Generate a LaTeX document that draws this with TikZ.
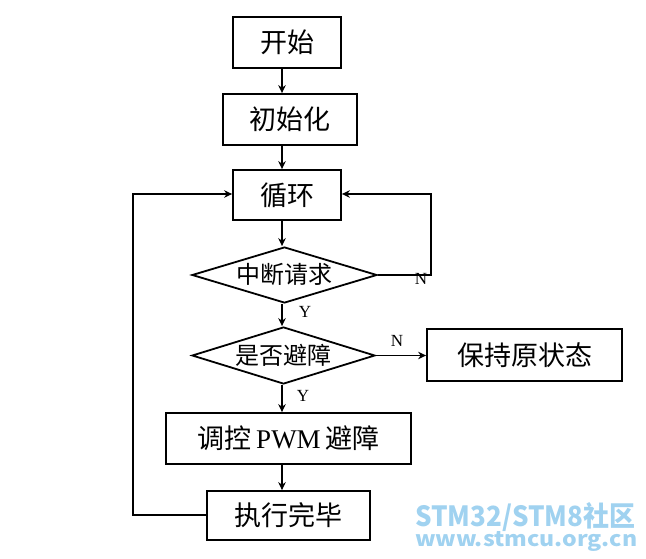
\documentclass[tikz,border=0pt]{standalone}
\usepackage{fontspec}
\setmainfont{Liberation Serif}
\newfontfamily\cjk{Noto Sans CJK SC}
\usetikzlibrary{shapes.geometric,arrows.meta,calc}
\definecolor{wm}{RGB}{160,210,240}
\tikzset{
  box/.style={draw, line width=1.8pt, rectangle, inner sep=0pt, font=\cjk\fontsize{27}{30}\selectfont},
  dia/.style={draw, line width=1.8pt, diamond, inner sep=0pt, aspect=3.3, text height=18pt, text depth=1pt, font=\cjk\fontsize{24}{26}\selectfont},
  arr/.style={line width=1.6pt, -{Stealth[length=8pt,width=7.5pt]}},
  yn/.style={font=\fontsize{17}{18}\selectfont, inner sep=0pt},
  wmark/.style={text=wm, font=\cjk\bfseries, inner sep=0pt, anchor=base west}
}
\begin{document}
\begin{tikzpicture}[x=1pt,y=-1pt]
\useasboundingbox (0,0) rectangle (646,559);
\node[box, minimum width=108pt, minimum height=51pt] (start) at (287,42.5) {开始};
\node[box, minimum width=134pt, minimum height=51pt] (init) at (290,119.5) {初始化};
\node[box, minimum width=108pt, minimum height=50pt] (loop) at (287,195) {循环};
\node[dia, minimum width=185pt, minimum height=56pt] (d1) at (284.5,275) {中断请求};
\node[dia, minimum width=183pt, minimum height=57pt] (d2) at (283.5,355.5) {是否避障};
\node[box, minimum width=195pt, minimum height=52pt] (keep) at (524.5,355) {保持原状态};
\node[box, minimum width=245pt, minimum height=51pt] (pwm) at (288.5,438.5) {调控\,{\normalfont PWM}\,避障};
\node[box, minimum width=163pt, minimum height=49pt] (done) at (288.5,515.5) {执行完毕};
\coordinate (rc1) at (431,275);
\coordinate (rc2) at (431,194);
\coordinate (lc1) at (133,515);
\coordinate (lc2) at (133,194);
\draw[arr] (start.south -| 282,0) -- (init.north -| 282,0);
\draw[arr] (init.south -| 282,0) -- (loop.north -| 282,0);
\draw[arr] (loop.south -| 282,0) -- (d1.north -| 282,0);
\draw[arr] (d1.south -| 282,0) -- (d2.north -| 282,0);
\draw[arr] (d2.south -| 282,0) -- (pwm.north -| 282,0);
\draw[arr] (pwm.south -| 282,0) -- (done.north -| 282,0);
\draw[arr] (d1.east) -- (rc1) -- (rc2) -- (loop.east |- rc2);
\draw[arr] (d2.east) -- (keep.west |- d2.east);
\draw[arr] (done.west |- lc1) -- (lc1) -- (lc2) -- (loop.west |- lc2);
\node[yn] (n1) at (421,279) {N};
\node[yn] (y1) at (305,312) {Y};
\node[yn] (n2) at (397,341) {N};
\node[yn] (y2) at (303,396) {Y};
\node[wmark, text depth=0pt] (w1) at (415,526) {\resizebox{220pt}{24pt}{STM32/STM8社区}};
\node[wmark, text height=15pt] (w2) at (415,546) {\resizebox{222pt}{15pt}{www.stmcu.org.cn}};
\end{tikzpicture}
\end{document}
